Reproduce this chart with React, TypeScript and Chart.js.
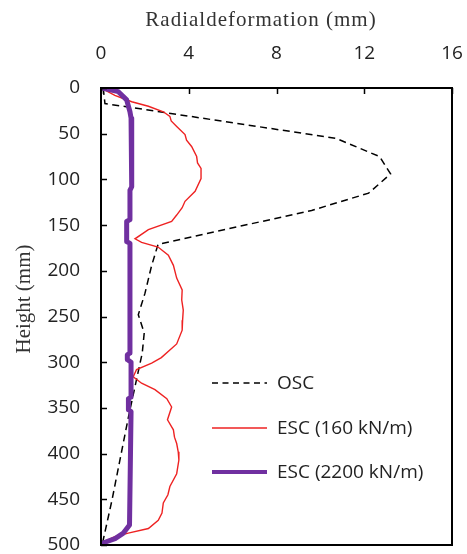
import React, { useEffect, useRef } from 'react';
import { Chart, registerables } from 'chart.js';

Chart.register(...registerables);

// ---- data ----
const xTickValues = [0, 4, 8, 12, 16];
const yTickValues = [0, 50, 100, 150, 200, 250, 300, 350, 400, 450, 500];

const seriesNames = ['OSC', 'ESC (160 kN/m)', 'ESC (2200 kN/m)'];

const oscHeight = [0, 17, 55, 75, 94, 115, 134, 171, 195, 225, 248, 268, 290, 360, 451, 500];
const oscDeform = [0.1, 0.18, 10.7, 12.7, 13.2, 12.2, 9.6, 2.6, 2.3, 2.0, 1.7, 1.97, 1.88, 1.25, 0.5, 0.05];

const esc160Height = [0, 8, 15, 20, 26, 31, 36, 42, 51, 57, 64, 75, 82, 88, 99, 113, 124, 131, 139, 146, 155, 165, 169, 174, 183, 194, 208, 221, 232, 243, 254, 265, 280, 295, 301, 308, 316, 323, 330, 340, 349, 363, 374, 382, 389, 398, 407, 422, 436, 445, 454, 465, 473, 482, 487, 491, 496, 500];
const esc160Deform = [0, 0.63, 1.4, 2.16, 2.84, 3.14, 3.2, 3.45, 3.83, 3.9, 4.13, 4.36, 4.4, 4.56, 4.56, 4.29, 3.83, 3.7, 3.45, 3.22, 2.16, 1.55, 1.85, 2.6, 3.07, 3.3, 3.45, 3.7, 3.68, 3.75, 3.72, 3.7, 3.45, 2.75, 2.31, 1.62, 1.47, 1.85, 2.46, 3.0, 3.22, 3.03, 3.3, 3.35, 3.45, 3.52, 3.55, 3.45, 3.14, 3.05, 2.84, 2.78, 2.61, 2.16, 1.24, 0.63, 0.18, 0.03];

const esc2200Height = [0, 4, 13, 26, 33, 60, 108, 112, 144, 146, 168, 170, 290, 292, 297, 300, 338, 340, 352, 354, 478, 487, 493, 497, 500];
const esc2200Deform = [0.05, 0.79, 1.17, 1.32, 1.37, 1.4, 1.4, 1.32, 1.32, 1.17, 1.17, 1.32, 1.32, 1.2, 1.2, 1.37, 1.37, 1.25, 1.25, 1.37, 1.3, 1.02, 0.64, 0.18, 0.03];

const xTitle = 'Radialdeformation (mm)';
const yTitle = 'Height (mm)';

const colors = ['#000000', 'rgb(238,34,34)', '#7030A0'];

const toPoints = (h: number[], d: number[]) => h.map((v, i) => ({ x: d[i], y: v }));

const framePlugin = {
  id: 'frameAndLegend',
  afterDatasetsDraw(chart: any) {
    const { ctx, chartArea: a, scales } = chart;
    ctx.save();
    // frame
    ctx.strokeStyle = '#000';
    ctx.lineWidth = 2;
    ctx.strokeRect(a.left, a.top, a.right - a.left, a.bottom - a.top);
    // inward ticks
    ctx.lineWidth = 1.5;
    ctx.beginPath();
    scales.x.ticks.forEach((t: any) => {
      const px = Math.round(scales.x.getPixelForValue(t.value)) + 0.5;
      ctx.moveTo(px, a.top);
      ctx.lineTo(px, a.top + 6);
    });
    scales.y.ticks.forEach((t: any) => {
      const py = Math.round(scales.y.getPixelForValue(t.value)) + 0.5;
      ctx.moveTo(a.left, py);
      ctx.lineTo(a.left + 6, py);
    });
    ctx.stroke();

    // legend
    const lx0 = a.left + 111;
    const lx1 = a.left + 166;
    const tx = a.left + 176;
    const ys = [a.top + 295, a.top + 340, a.top + 384];
    const widths = [1.5, 1.5, 4];
    const dashes = [[6, 4.5], [], []];
    ctx.font = '19px "Open Sans"';
    ctx.textBaseline = 'middle';
    ctx.textAlign = 'left';
    seriesNames.forEach((name, i) => {
      ctx.beginPath();
      ctx.setLineDash(dashes[i]);
      ctx.strokeStyle = colors[i];
      ctx.lineWidth = widths[i];
      ctx.moveTo(lx0, ys[i]);
      ctx.lineTo(lx1, ys[i]);
      ctx.stroke();
      ctx.setLineDash([]);
      ctx.fillStyle = '#222';
      ctx.fillText(name, tx, ys[i] + 1);
    });

    // titles
    ctx.fillStyle = '#333';
    ctx.font = '21px "Liberation Serif"';
    (ctx as any).letterSpacing = '1px';
    ctx.textAlign = 'center';
    ctx.fillText(xTitle, a.left + 160, 20);
    (ctx as any).letterSpacing = '0px';
    ctx.translate(24, a.top + 211);
    ctx.rotate(-Math.PI / 2);
    ctx.fillText(yTitle, 0, 0);
    ctx.restore();
  },
};

export default function App() {
  const ref = useRef<HTMLCanvasElement>(null);
  useEffect(() => {
    if (!ref.current) return;
    const tickFont = { family: '"Open Sans"', size: 19 };
    const chart = new Chart(ref.current, {
      type: 'scatter',
      data: {
        datasets: [
          {
            label: seriesNames[0],
            data: toPoints(oscHeight, oscDeform),
            showLine: true,
            borderColor: colors[0],
            borderWidth: 1.5,
            borderDash: [7, 4.5],
            pointRadius: 0,
            order: 3,
          },
          {
            label: seriesNames[1],
            data: toPoints(esc160Height, esc160Deform),
            showLine: true,
            borderColor: colors[1],
            borderWidth: 1.4,
            pointRadius: 0,
            order: 2,
          },
          {
            label: seriesNames[2],
            data: toPoints(esc2200Height, esc2200Deform),
            showLine: true,
            borderColor: colors[2],
            borderWidth: 5,
            borderCapStyle: 'round',
            borderJoinStyle: 'round',
            pointRadius: 0,
            order: 1,
          },
        ],
      },
      options: {
        animation: false,
        responsive: false,
        layout: { padding: { left: 0, top: 0, right: 15, bottom: 9 } },
        plugins: { legend: { display: false }, tooltip: { enabled: false } },
        scales: {
          x: {
            type: 'linear',
            position: 'top',
            min: 0,
            max: 16,
            afterBuildTicks: (s: any) => {
              s.ticks = xTickValues.map((v) => ({ value: v }));
            },
            ticks: { font: tickFont, color: '#222', padding: 0 },
            grid: { display: false, drawTicks: true, tickLength: 22.6 },
            border: { display: false },
            afterFit: (s: any) => {
              s.height = 88;
            },
          },
          y: {
            type: 'linear',
            reverse: true,
            min: 0,
            max: 500,
            afterBuildTicks: (s: any) => {
              s.ticks = yTickValues.map((v) => ({ value: v }));
            },
            ticks: { font: { ...tickFont, lineHeight: 0.9 }, color: '#222', padding: 0 },
            grid: { display: false, drawTicks: true, tickLength: 21 },
            border: { display: false },
            afterFit: (s: any) => {
              s.width = 101;
            },
          },
        },
      },
      plugins: [framePlugin],
    } as any);
    return () => chart.destroy();
  }, []);
  return (
    <canvas
      ref={ref}
      width={467}
      height={554}
      style={{ position: 'fixed', left: 0, top: 0, display: 'block', background: '#fff' }}
    />
  );
}
